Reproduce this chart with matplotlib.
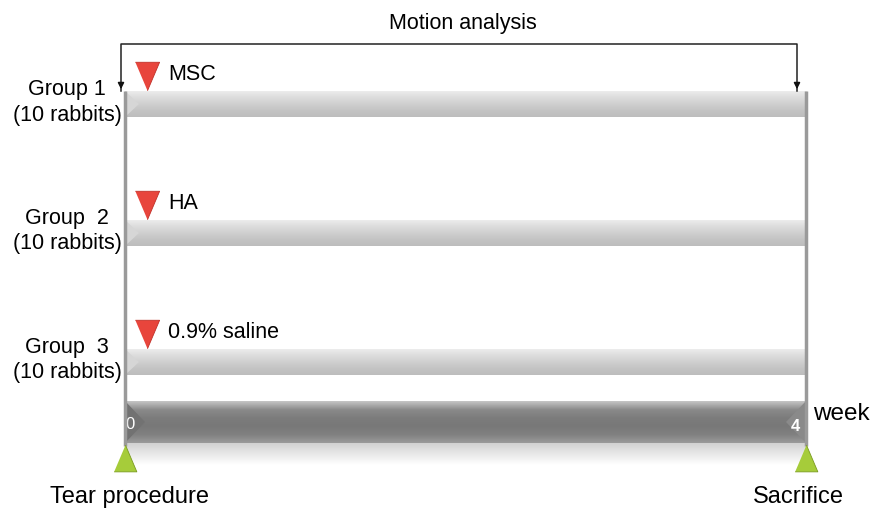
import numpy as np
import matplotlib.pyplot as plt
from matplotlib.colors import LinearSegmentedColormap

plt.rcParams['font.family'] = ['Liberation Sans', 'DejaVu Sans']

# Data
groups = ['Group 1', 'Group  2', 'Group  3']
group_sizes = [10, 10, 10]
treatments = ['MSC', 'HA', '0.9% saline']
week_ticks = [0, 4]
events = ['Tear procedure', 'Sacrifice']
span_label = 'Motion analysis'

# Layout (weeks on x, pixel rows on y)
PX = 1 / 170.25          # one pixel in weeks
X0 = -125 * PX
X1 = (871 - 125) * PX
ROW0, ROW_STEP = 105, 129
BAR_H = 26
AXIS_Y, AXIS_H = 423, 42
FS = 15.5
event_dx = [4, -8]

light_cmap = LinearSegmentedColormap.from_list(
    'light', ['#ececec', '#dcdcdc', '#cfcfcf', '#c4c4c4', '#bdbdbd'])
dark_cmap = LinearSegmentedColormap.from_list(
    'dark', ['#c4c4c4', '#8a8a8a', '#7c7c7c', '#787878', '#808080', '#9a9a9a'])
refl_cmap = LinearSegmentedColormap.from_list('refl', ['#d2d2d2', '#ffffff'])

down_tri = [(-0.85, 1.0), (0.85, 1.0), (0.0, -1.0)]
up_tri = [(-0.85, -1.0), (0.85, -1.0), (0.0, 1.0)]

fig = plt.figure(figsize=(8.71, 5.10), dpi=100)
ax = fig.add_axes([0, 0, 1, 1])
ax.set_xlim(X0, X1)
ax.set_ylim(510, 0)
ax.axis('off')

grad = np.linspace(0, 1, 64).reshape(-1, 1)
start, end = week_ticks[0], week_ticks[-1]

# group bars
for i, (g, n, t) in enumerate(zip(groups, group_sizes, treatments)):
    yc = ROW0 + i * ROW_STEP
    ax.imshow(grad, cmap=light_cmap, aspect='auto', zorder=1,
              extent=(start, end, yc + BAR_H / 2, yc - BAR_H / 2))
    ax.fill([start, start + 14 * PX, start], [yc - BAR_H / 2, yc, yc + BAR_H / 2],
            color='#d6d6d6', lw=0, zorder=2)
    ax.text(-58 * PX, yc - 15, g, ha='center', va='center', fontsize=FS)
    ax.text(-58 * PX, yc + 10, f'({n} rabbits)', ha='center', va='center', fontsize=FS)
    ax.scatter([start + 22 * PX], [yc - 28], marker=down_tri, s=420, color='#e8453c',
               edgecolors='#c03028', linewidths=0.6, zorder=4)
    ax.text(start + 43 * PX, yc - 30, t, ha='left', va='center', fontsize=FS)

# week axis bar with reflection
ax.imshow(grad, cmap=dark_cmap, aspect='auto', zorder=1,
          extent=(start, end, AXIS_Y + AXIS_H / 2, AXIS_Y - AXIS_H / 2))
ax.fill([start, start + 20 * PX, start], [AXIS_Y - AXIS_H / 2, AXIS_Y, AXIS_Y + AXIS_H / 2],
        color='#727272', lw=0, zorder=2)
ax.fill([end, end - 20 * PX, end], [AXIS_Y - AXIS_H / 2, AXIS_Y, AXIS_Y + AXIS_H / 2],
        color='#8a8a8a', lw=0, zorder=2)
ax.imshow(grad, cmap=refl_cmap, aspect='auto', zorder=1,
          extent=(start, end, AXIS_Y + AXIS_H / 2 + 22, AXIS_Y + AXIS_H / 2))
ax.text(start + 5 * PX, AXIS_Y + 2, str(week_ticks[0]), color='white', ha='center',
        va='center', fontsize=12)
ax.text(end - 11 * PX, AXIS_Y + 4, str(week_ticks[-1]), color='white', ha='center',
        va='center', fontsize=12, fontweight='bold')
ax.text(end + 7 * PX, AXIS_Y - 9, 'week', ha='left', va='center', fontsize=17.5)

# vertical boundary lines
for w in week_ticks:
    ax.plot([w, w], [ROW0 - BAR_H / 2, AXIS_Y + AXIS_H / 2 + 3], color='#9a9a9a',
            lw=2.5, zorder=3, solid_capstyle='butt')

# event markers
for w, e, dx in zip(week_ticks, events, event_dx):
    ax.scatter([w], [459], marker=up_tri, s=370, color='#a6cc3a', edgecolors='#7a9a20',
               linewidths=0.6, zorder=4)
    ax.text(w + dx * PX, 497, e, ha='center', va='center', fontsize=17)

# motion analysis bracket
left, right = start - 4 * PX, end - 9 * PX
ax.plot([left, left, right, right], [ROW0 - BAR_H / 2, 45, 45, ROW0 - BAR_H / 2],
        color='#222222', lw=1.1, zorder=3)
for xx in (left, right):
    ax.annotate('', xy=(xx, ROW0 - BAR_H / 2 + 1), xytext=(xx, ROW0 - BAR_H / 2 - 8),
                arrowprops=dict(arrowstyle='-|>', color='#111111', lw=1.1,
                                mutation_scale=9), zorder=4)
ax.text((left + right) / 2 + 4 * PX, 23, span_label, ha='center', va='center', fontsize=FS)

fig.savefig('out.png', dpi=100)
